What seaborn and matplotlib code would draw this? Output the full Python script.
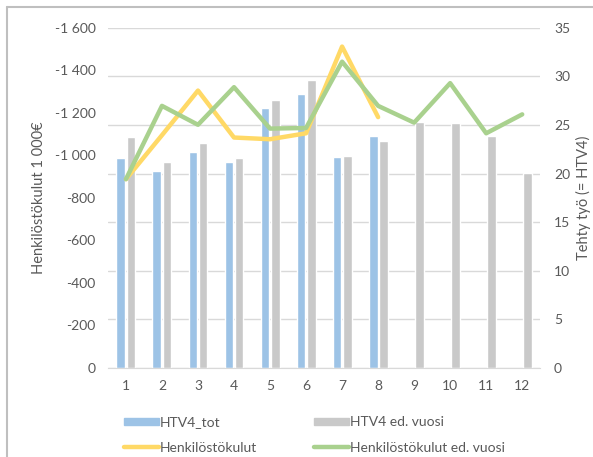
import numpy as np
import pandas as pd
import matplotlib
matplotlib.use("Agg")
import matplotlib.pyplot as plt
from matplotlib.lines import Line2D
from matplotlib.patches import Patch
from matplotlib.ticker import FuncFormatter, MultipleLocator
import seaborn as sns

# =========================
# DATA
# =========================
months = list(range(1, 13))
htv4_tot = [21.6, 20.3, 22.2, 21.2, 26.8, 28.2, 21.75, 23.9]
htv4_prev = [23.8, 21.2, 23.1, 21.6, 27.6, 29.6, 21.8, 23.4, 25.3, 25.2, 23.9, 20.1]
kulut = [-888, -1095, -1305, -1084, -1076, -1104, -1512, -1180]
kulut_prev = [-888, -1233, -1144, -1321, -1126, -1129, -1441, -1233, -1154, -1340, -1104, -1193]

bar_names = ["HTV4_tot", "HTV4 ed. vuosi"]
line_names = ["Henkilöstökulut", "Henkilöstökulut ed. vuosi"]

bars_df = pd.concat([
    pd.DataFrame({"kk": months[:len(htv4_tot)], "htv": htv4_tot, "sarja": bar_names[0]}),
    pd.DataFrame({"kk": months, "htv": htv4_prev, "sarja": bar_names[1]}),
])
lines_df = pd.concat([
    pd.DataFrame({"kk": months[:len(kulut)], "eur": kulut, "sarja": line_names[0]}),
    pd.DataFrame({"kk": months, "eur": kulut_prev, "sarja": line_names[1]}),
])

# =========================
# STYLE
# =========================
sns.set_style("white")
plt.rcParams["font.family"] = ["Lato", "DejaVu Sans"]
txt = "#595959"
grid_c = "#d9d9d9"
bar_colors = {bar_names[0]: "#9dc3e6", bar_names[1]: "#c9c9c9"}
line_colors = {line_names[0]: "#ffd966", line_names[1]: "#a9d18e"}

fig = plt.figure(figsize=(5.93, 4.57), dpi=100)
ax = fig.add_axes([0.182, 0.195, 0.729, 0.744])

# bars (HTV4) -> right scale
sns.barplot(data=bars_df, x="kk", y="htv", hue="sarja", palette=bar_colors,
            native_scale=True, width=0.56, gap=0.12, ax=ax, legend=False,
            hue_order=bar_names, saturation=1, zorder=2)

# lines (costs) -> left scale
ax2 = ax.twinx()
sns.lineplot(data=lines_df, x="kk", y="eur", hue="sarja", palette=line_colors,
             hue_order=line_names, linewidth=3.2, ax=ax2, legend=False)

ax.set_ylim(0, 35)
ax.yaxis.set_major_locator(MultipleLocator(5))
ax.tick_params(axis="y", left=False, labelleft=False, right=False, labelright=True)
ax.yaxis.set_label_position("right")
ax.set_ylabel("Tehty työ (= HTV4)", color=txt, fontsize=10.5, labelpad=4)

ax2.set_ylim(0, -1600)
ax2.yaxis.set_major_locator(MultipleLocator(200))
ax2.yaxis.set_major_formatter(FuncFormatter(lambda v, p: f"{v:,.0f}".replace(",", " ")))
ax2.tick_params(axis="y", left=False, labelleft=True, right=False, labelright=False)
ax2.yaxis.set_label_position("left")
ax2.set_ylabel("Henkilöstökulut 1 000€", color=txt, fontsize=10.5, labelpad=6)

ax.set_xlim(0.5, 12.5)
ax.set_xticks(months)
ax.set_xlabel("")
ax.grid(axis="y", color=grid_c, linewidth=1, zorder=0)
ax.set_axisbelow(True)

for a in (ax, ax2):
    for s in a.spines.values():
        s.set_visible(False)
    a.tick_params(length=0, colors=txt, labelsize=10)
ax.spines["bottom"].set_visible(True)
ax.spines["bottom"].set_color(grid_c)
ax.tick_params(axis="x", pad=9)
ax.tick_params(axis="y", pad=10)
ax2.tick_params(axis="y", pad=9)

# legend
handles = [
    Patch(color=bar_colors[bar_names[0]]), Line2D([], [], color=line_colors[line_names[0]], lw=3.2),
    Patch(color=bar_colors[bar_names[1]]), Line2D([], [], color=line_colors[line_names[1]], lw=3.2),
]
labels = [bar_names[0], line_names[0], bar_names[1], line_names[1]]
leg = fig.legend(handles, labels, ncol=2, loc="lower left", bbox_to_anchor=(0.188, -0.02),
                 frameon=False, fontsize=10, handlelength=2.5, handleheight=0.5,
                 handletextpad=0.1, columnspacing=4.1, labelspacing=0.95)
for t in leg.get_texts():
    t.set_color(txt)

# chart border
fig.add_artist(Line2D([0.012, 1.0], [0.985, 0.985], color="#bfbfbf", lw=1.5))
fig.add_artist(Line2D([0.012, 0.012], [0.0, 0.985], color="#bfbfbf", lw=1.5))

plt.savefig("out.png", dpi=100)
plt.close()
